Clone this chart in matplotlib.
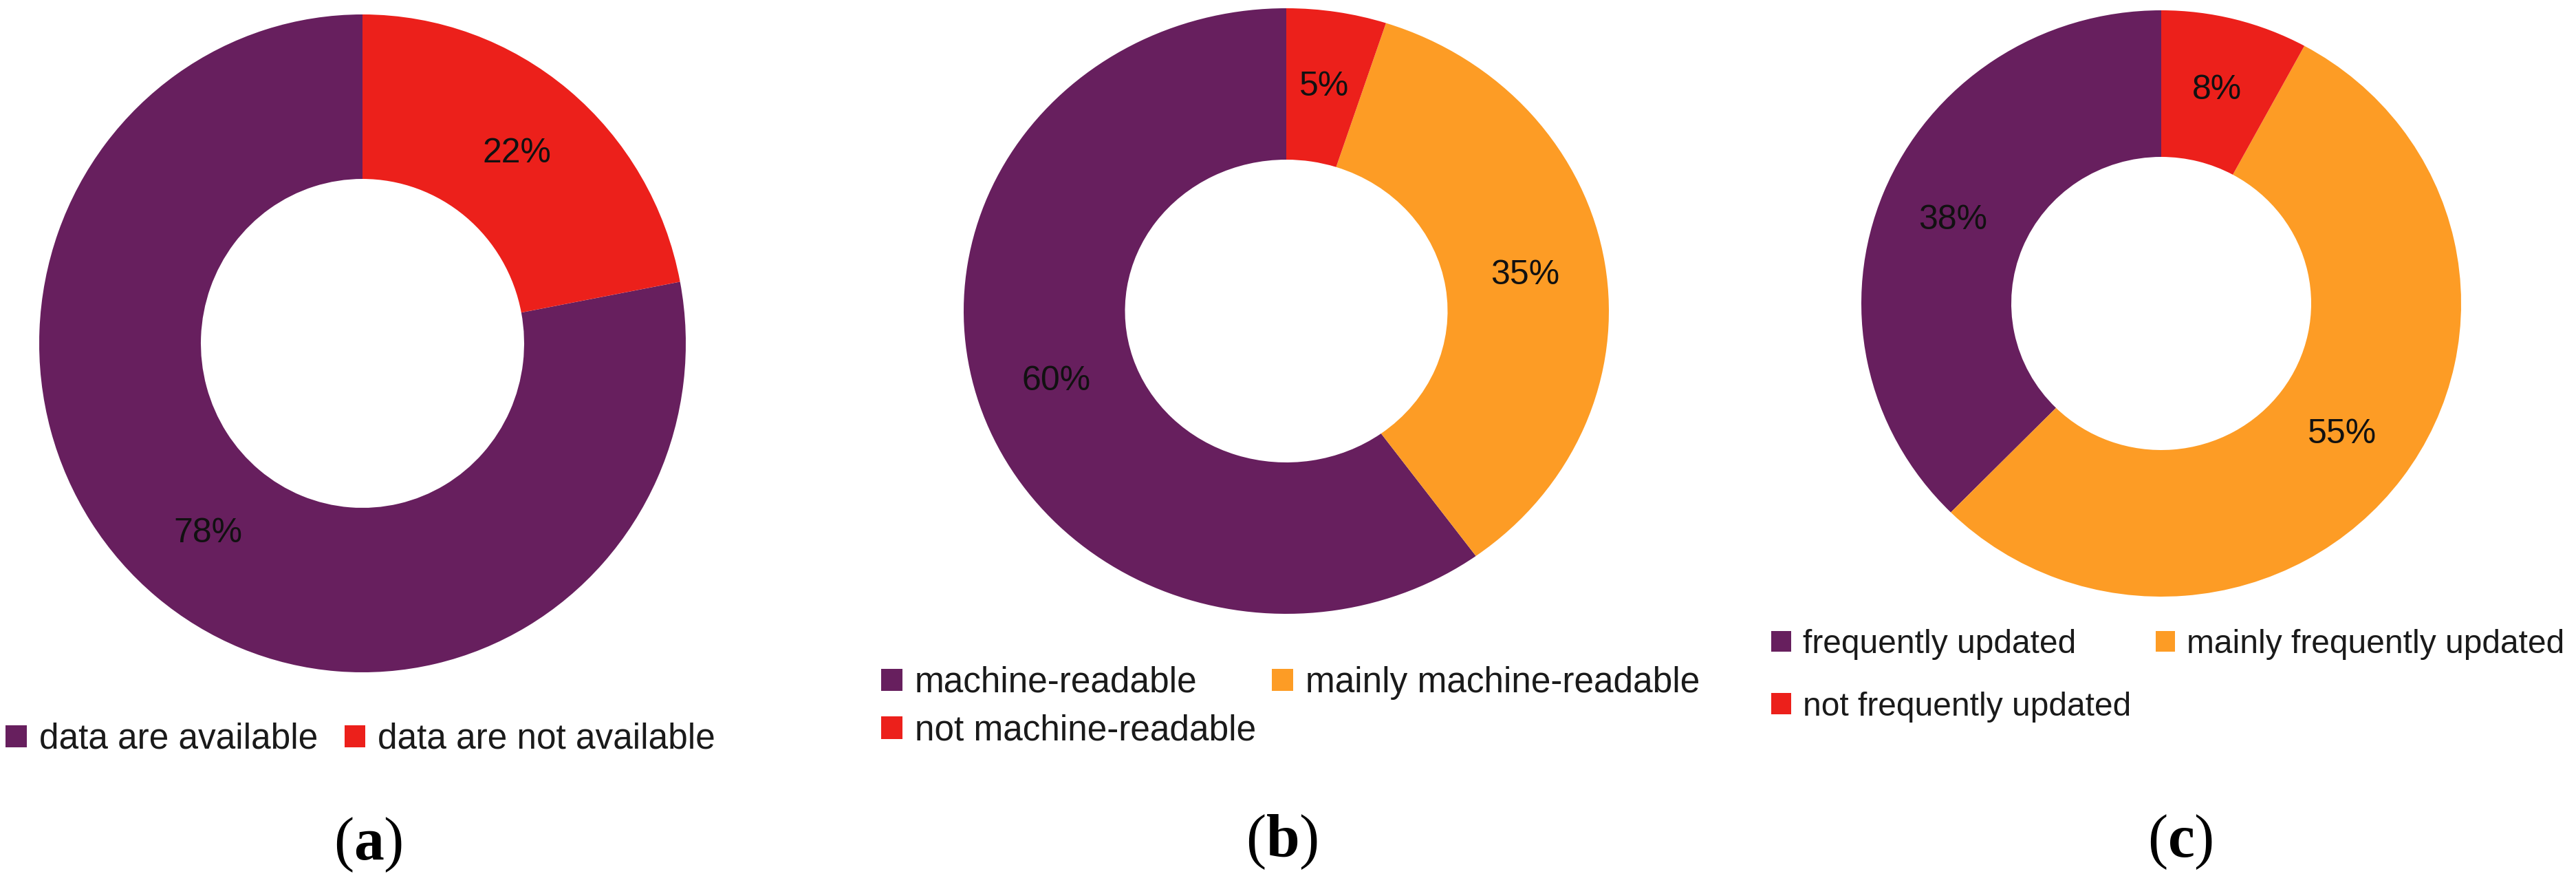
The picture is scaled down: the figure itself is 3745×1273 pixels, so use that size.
import matplotlib

matplotlib.use("Agg")
import matplotlib.pyplot as plt

# data
labels_a = ["data are available", "data are not available"]
values_a = [78, 22]
labels_b = ["machine-readable", "mainly machine-readable", "not machine-readable"]
values_b = [60, 35, 5]
labels_c = ["frequently updated", "mainly frequently updated", "not frequently updated"]
values_c = [38, 55, 8]
captions = ["a", "b", "c"]

purple = "#671f5e"
orange = "#fd9c25"
red = "#ec201b"
colors_a = [purple, red]
colors_bc = [purple, orange, red]

sans = ["Liberation Sans Narrow", "Liberation Sans", "DejaVu Sans"]

plt.rcParams["mathtext.fontset"] = "custom"
plt.rcParams["mathtext.rm"] = "Liberation Serif"
plt.rcParams["mathtext.bf"] = "Liberation Serif:bold"

W, H = 3745, 1273
fig = plt.figure(figsize=(W / 100, H / 100), dpi=100)

# (center x, center y from top, radius x, radius y) in pixels
boxes = [(527, 499, 470, 478), (1870, 452, 469, 440), (3142, 441, 436, 426)]
# legend anchor (left, top from top), row spacing, column spacing, font size
legend_pos = [
    (8, 1050, 0.15, 0.75, 37),
    (1281, 968, 0.4, 0.45, 37),
    (2575, 914, 0.95, 0.75, 34.5),
]
caption_pos = [(535, 1228), (1864, 1224), (3170, 1224)]

panels = [
    (labels_a, values_a, colors_a),
    (labels_b, values_b, colors_bc),
    (labels_c, values_c, colors_bc),
]

for i, (labels, values, colors) in enumerate(panels):
    cx, cy, rx, ry = boxes[i]
    ax = fig.add_axes([(cx - rx) / W, (H - cy - ry) / H, 2 * rx / W, 2 * ry / H])
    total = sum(values)
    wedges, texts, autotexts = ax.pie(
        values,
        colors=colors,
        startangle=90,
        counterclock=True,
        autopct=lambda p, t=total: f"{p * t / 100:.0f}%",
        pctdistance=0.75,
        wedgeprops=dict(width=0.5, linewidth=0),
        textprops=dict(family=sans, fontsize=36, color="#111111"),
    )
    ax.set_aspect("auto")
    ax.set_xlim(-1, 1)
    ax.set_ylim(-1, 1)
    ax.axis("off")

    # row-major order for the two-column legends
    order = [0, 2, 1] if len(labels) == 3 else [0, 1]
    lx, ly, lsp, csp, fs = legend_pos[i]
    fig.legend(
        [wedges[k] for k in order],
        [labels[k] for k in order],
        loc="upper left",
        bbox_to_anchor=(lx / W, (H - ly) / H),
        ncol=2,
        frameon=False,
        prop=dict(family=sans, size=fs),
        labelcolor="#1a1a1a",
        handlelength=0.6,
        handleheight=0.6,
        handletextpad=0.35,
        columnspacing=csp,
        labelspacing=lsp,
        borderpad=0,
        borderaxespad=0,
    )

    px, py = caption_pos[i]
    fig.text(
        px / W,
        (H - py) / H,
        r"$\mathrm{(}\mathbf{%s}\mathrm{)}$" % captions[i],
        fontsize=63,
        ha="center",
        va="center",
        color="black",
    )

fig.savefig("out.png", dpi=100, facecolor="white")
